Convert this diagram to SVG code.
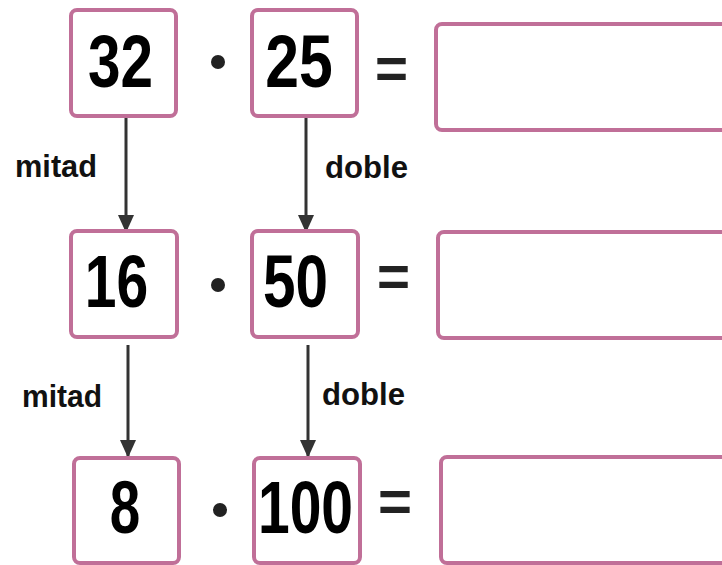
<svg xmlns="http://www.w3.org/2000/svg" width="722" height="565" viewBox="0 0 722 565">
<defs>
<style>
.box{fill:#fff;stroke:#C06F98;stroke-width:4}
.num{font-family:"Liberation Sans",Arial,sans-serif;font-weight:bold;font-size:74px;fill:#000;text-anchor:middle}
.lbl{font-family:"Liberation Sans",Arial,sans-serif;font-weight:bold;font-size:32px;fill:#111}
.eq{font-family:"Liberation Sans",Arial,sans-serif;font-weight:bold;font-size:58px;fill:#222}
.dot{fill:#222}
.conn{stroke:#333;stroke-width:3;fill:none}
</style>
<marker id="ah" markerUnits="userSpaceOnUse" markerWidth="18" markerHeight="22" refX="18" refY="9" orient="auto" viewBox="0 0 20 18">
<path d="M0,0 L20,9 L0,18 Z" fill="#333"/>
</marker>
</defs>
<rect width="722" height="565" fill="#fff"/>
<g id="connectors">
<line class="conn" x1="126" y1="118" x2="126" y2="231" marker-end="url(#ah)"/>
<line class="conn" x1="306" y1="118" x2="306" y2="231" marker-end="url(#ah)"/>
<line class="conn" x1="128" y1="345" x2="128" y2="456" marker-end="url(#ah)"/>
<line class="conn" x1="308" y1="345" x2="308" y2="456" marker-end="url(#ah)"/>
<text class="lbl" x="15" y="177" textLength="82" lengthAdjust="spacingAndGlyphs">mitad</text>
<text class="lbl" x="325" y="178" textLength="83" lengthAdjust="spacingAndGlyphs">doble</text>
<text class="lbl" x="22" y="407" textLength="80" lengthAdjust="spacingAndGlyphs">mitad</text>
<text class="lbl" x="322" y="405" textLength="83" lengthAdjust="spacingAndGlyphs">doble</text>
</g>
<g id="n32"><rect class="box" x="71" y="10" width="105" height="106" rx="6"/><text class="num" transform="translate(120.5,87) scale(0.79,1)">32</text></g>
<g id="n25"><rect class="box" x="252" y="10" width="105" height="106" rx="6"/><text class="num" transform="translate(299,87) scale(0.82,1)">25</text></g>
<g id="r1"><rect class="box" x="436" y="24" width="300" height="106" rx="6"/></g>
<g id="n16"><rect class="box" x="71" y="231" width="106" height="106" rx="6"/><text class="num" transform="translate(116.5,307) scale(0.77,1)">16</text></g>
<g id="n50"><rect class="box" x="252" y="231" width="106" height="106" rx="6"/><text class="num" transform="translate(295.5,307) scale(0.79,1)">50</text></g>
<g id="r2"><rect class="box" x="438" y="232" width="300" height="106" rx="6"/></g>
<g id="n8"><rect class="box" x="74" y="458" width="105" height="105" rx="6"/><text class="num" transform="translate(125,533) scale(0.74,1)">8</text></g>
<g id="n100"><rect class="box" x="254" y="458" width="106" height="105" rx="6"/><text class="num" transform="translate(305.5,533) scale(0.77,1)">100</text></g>
<g id="r3"><rect class="box" x="441" y="457" width="300" height="106" rx="6"/></g>
<g id="ops">
<circle class="dot" cx="218" cy="62" r="7"/>
<circle class="dot" cx="218" cy="285" r="7"/>
<circle class="dot" cx="220" cy="510" r="7"/>
<text class="eq" x="375" y="88" textLength="33" lengthAdjust="spacingAndGlyphs">=</text>
<text class="eq" x="377" y="296" textLength="33" lengthAdjust="spacingAndGlyphs">=</text>
<text class="eq" x="378" y="521" textLength="34" lengthAdjust="spacingAndGlyphs">=</text>
</g>
</svg>
